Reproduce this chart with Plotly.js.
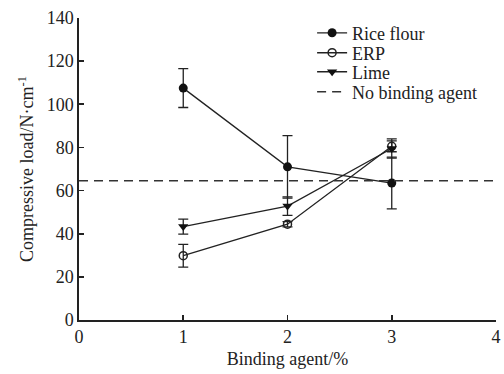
<!DOCTYPE html>
<html>
<head>
<meta charset="utf-8">
<script src="https://cdn.plot.ly/plotly-3.0.1.min.js"></script>
<style>html,body{margin:0;padding:0;background:#fff;}#chart{width:504px;height:374px;}</style>
</head>
<body>
<div id="chart"></div>
<script>
const binding = [1, 2, 3];
const riceFlour = [107.5, 71, 63.5];
const riceFlourErr = [9, 14.5, 12];
const erp = [29.8, 44.4, 80.5];
const erpErr = [5.3, 1.2, 2.5];
const lime = [43.3, 52.8, 79.5];
const limeErr = [3.5, 4.3, 4.5];
const noAgentX = [0, 4];
const noAgentY = [64.5, 64.5];

const font = {family: '"Liberation Serif", "Times New Roman", serif', color: '#222'};
const f = (s) => Object.assign({size: s}, font);
const eb = (arr) => ({type: 'data', array: arr, visible: true, color: '#222', thickness: 1.3, width: 5});

const traces = [
  {x: binding, y: riceFlour, name: 'Rice flour', mode: 'lines+markers', error_y: eb(riceFlourErr), legend: 'legend',
   line: {color: '#222', width: 1.3}, marker: {symbol: 'circle', size: 9, color: '#111'}},
  {x: binding, y: erp, name: 'ERP', mode: 'lines+markers', error_y: eb(erpErr), legend: 'legend2',
   line: {color: '#222', width: 1.3}, marker: {symbol: 'circle-open', size: 8, color: '#222', line: {width: 1.5, color: '#222'}}},
  {x: binding, y: lime, name: 'Lime', mode: 'lines+markers', error_y: eb(limeErr), legend: 'legend3',
   line: {color: '#222', width: 1.3}, marker: {symbol: 'triangle-down', size: 9, color: '#111'}},
  {x: noAgentX, y: noAgentY, name: 'No binding agent', mode: 'lines', legend: 'legend4',
   line: {color: '#333', width: 1.5, dash: '9px,6px'}}
];

const lg = (y) => ({x: 0.559, y: y, xanchor: 'left', yanchor: 'middle', bgcolor: 'rgba(0,0,0,0)',
                    font: f(18), itemwidth: 30, borderwidth: 0});

const layout = {
  width: 504, height: 374,
  margin: {l: 79, r: 8, t: 18, b: 54},
  paper_bgcolor: '#fff', plot_bgcolor: '#fff',
  font: f(18),
  showlegend: true,
  legend: lg(0.950), legend2: lg(0.884), legend3: lg(0.821), legend4: lg(0.755),
  xaxis: {range: [0, 4], tickvals: [0, 1, 2, 3, 4], showgrid: false, zeroline: false,
          showline: true, linecolor: '#222', linewidth: 1.6, ticks: 'inside', ticklen: 5, tickcolor: '#222', tickwidth: 1.6,
          tickfont: f(18),
          title: {text: 'Binding agent/%', font: f(18), standoff: 6}},
  yaxis: {range: [0, 140], tickvals: [0, 20, 40, 60, 80, 100, 120, 140], showgrid: false, zeroline: false,
          showline: true, linecolor: '#222', linewidth: 1.6, ticks: 'inside', ticklen: 5, tickcolor: '#222', tickwidth: 1.6,
          tickfont: f(18),
          title: {text: 'Compressive load/N·cm<sup>-1</sup>', font: f(18), standoff: 8}}
};

Plotly.newPlot('chart', traces, layout, {displayModeBar: false, staticPlot: true});
</script>
</body>
</html>
